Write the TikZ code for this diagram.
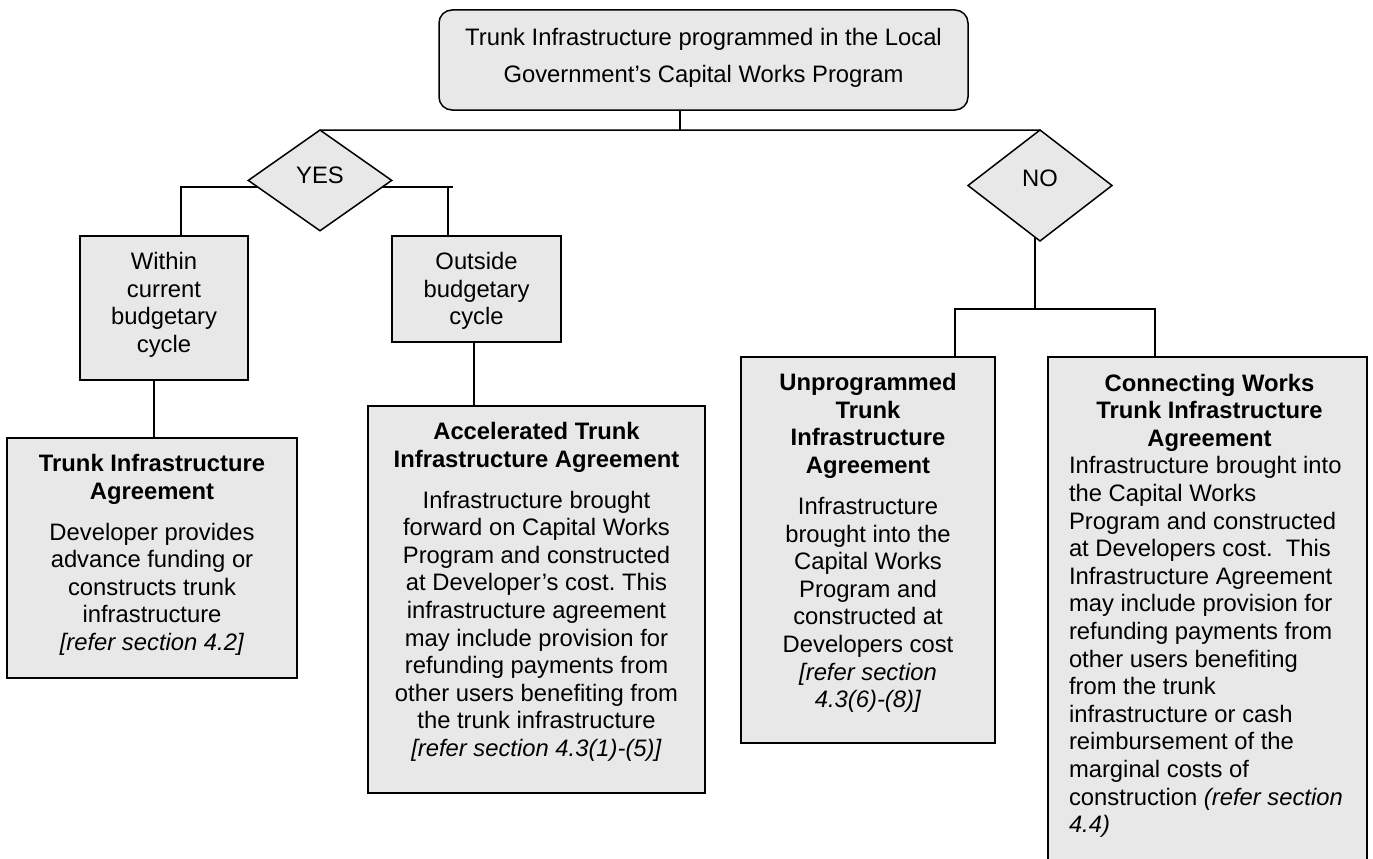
\documentclass[tikz,border=0pt]{standalone}
\usepackage{fontspec}
\setmainfont{Liberation Sans}
\usetikzlibrary{shapes.geometric,backgrounds}
\definecolor{boxgray}{RGB}{232,232,232}
\newcommand{\fst}{\rule{0pt}{20pt}}
\frenchspacing
\begin{document}
\begin{tikzpicture}[x=1pt,y=-1pt,line width=1.5pt,
  box/.style={draw=black,fill=boxgray,rectangle,inner sep=0pt,outer sep=0pt,anchor=north west},
  dia/.style={draw=black,fill=boxgray,diamond,inner sep=0pt,outer sep=0pt},
  txt/.style={inner sep=0pt,outer sep=0pt,align=center,anchor=north,font=\fontsize{23.8}{27.6}\selectfont},
  ttl/.style={txt,font=\fontsize{23.8}{27.6}\selectfont\bfseries},
  lbl/.style={inner sep=0pt,outer sep=0pt,anchor=base,font=\fontsize{23.8}{27.6}\selectfont},
  conn/.style={draw=black,line width=1.5pt}]
\useasboundingbox (0,0) rectangle (1373,859);
\clip (0,0) rectangle (1373,859);

% boxes
\node[box,rounded corners=13pt,minimum width=529,minimum height=100] (top) at (439,10) {};
\node[dia,minimum width=143.4,minimum height=100.7] (yes) at (320,180.4) {};
\node[dia,minimum width=144,minimum height=111] (no) at (1040,185.5) {};
\node[box,minimum width=168,minimum height=144] (within) at (80,236) {};
\node[box,minimum width=169,minimum height=106] (outside) at (392,236) {};
\node[box,minimum width=290,minimum height=240] (tia) at (7,438) {};
\node[box,minimum width=337,minimum height=387] (atia) at (368,406) {};
\node[box,minimum width=254,minimum height=386] (unprog) at (741,357) {};
\node[box,minimum width=319,minimum height=520] (cwtia) at (1048,357) {};

% labels
\node[txt,font=\fontsize{23.8}{36.7}\selectfont] (topt) at (703.5,26) {\fst Trunk Infrastructure programmed in the Local\\Government’s Capital Works Program};
\node[lbl] (yest) at (320,183) {YES};
\node[lbl] (not) at (1040,186) {NO};
\node[txt] (withint) at (164,249.5) {\fst Within\\current\\budgetary\\cycle};
\node[txt] (outsidet) at (476.5,249.5) {\fst Outside\\budgetary\\cycle};

\node[ttl] (tiat) at (152,451.5) {\fst Trunk Infrastructure\\Agreement};
\node[txt] (tiab) at (152,520.1) {\fst Developer provides\\advance funding or\\constructs trunk\\infrastructure\\\textit{[refer section 4.2]}};

\node[ttl] (atiat) at (536.5,419.5) {\fst Accelerated Trunk\\Infrastructure Agreement};
\node[txt] (atiab) at (536.5,488.1) {\fst Infrastructure brought\\forward on Capital Works\\Program and constructed\\at Developer’s cost. This\\infrastructure agreement\\may include provision for\\refunding payments from\\other users benefiting from\\the trunk infrastructure\\\textit{[refer section 4.3(1)-(5)]}};

\node[ttl] (unprogt) at (868,370.7) {\fst Unprogrammed\\Trunk\\Infrastructure\\Agreement};
\node[txt] (unprogb) at (868,494.5) {\fst Infrastructure\\brought into the\\Capital Works\\Program and\\constructed at\\Developers cost\\\textit{[refer section}\\\textit{4.3(6)-(8)]}};

\node[ttl] (cwtiat) at (1209.5,371) {\fst Connecting Works\\Trunk Infrastructure\\Agreement};
\node[txt,align=left,anchor=north west] (cwtiab) at (1069,453.8) {\fst Infrastructure brought into\\the Capital Works\\Program and constructed\\at Developers cost.\ \ This\\Infrastructure Agreement\\may include provision for\\refunding payments from\\other users benefiting\\from the trunk\\infrastructure or cash\\reimbursement of the\\marginal costs of\\construction \textit{(refer section}\\\textit{4.4)}};

% connectors
\coordinate (tj) at (680,130);
\coordinate (yl) at (181,187);
\coordinate (yr) at (453,187);
\coordinate (yrv) at (448,187);
\coordinate (wl) at (154,400);
\coordinate (ol) at (474,380);
\coordinate (nv) at (1035,309);
\coordinate (nl) at (955,309);
\coordinate (nr) at (1155,309);
\begin{pgfonlayer}{background}
\draw[conn] (tj |- top.south) -- (tj);
\draw[conn] (yes.north) -- (no.north);
\draw[conn] (yes.center |- yl) -- (yl) -- (yl |- within.north);
\draw[conn] (yes.center |- yr) -- (yr);
\draw[conn] (yrv) -- (yrv |- outside.north);
\draw[conn] (wl |- within.south) -- (wl |- tia.north);
\draw[conn] (ol |- outside.south) -- (ol |- atia.north);
\draw[conn] (nv |- no.center) -- (nv);
\draw[conn] (nl |- unprog.north) -- (nl) -- (nr) -- (nr |- cwtia.north);
\end{pgfonlayer}
\end{tikzpicture}
\end{document}
